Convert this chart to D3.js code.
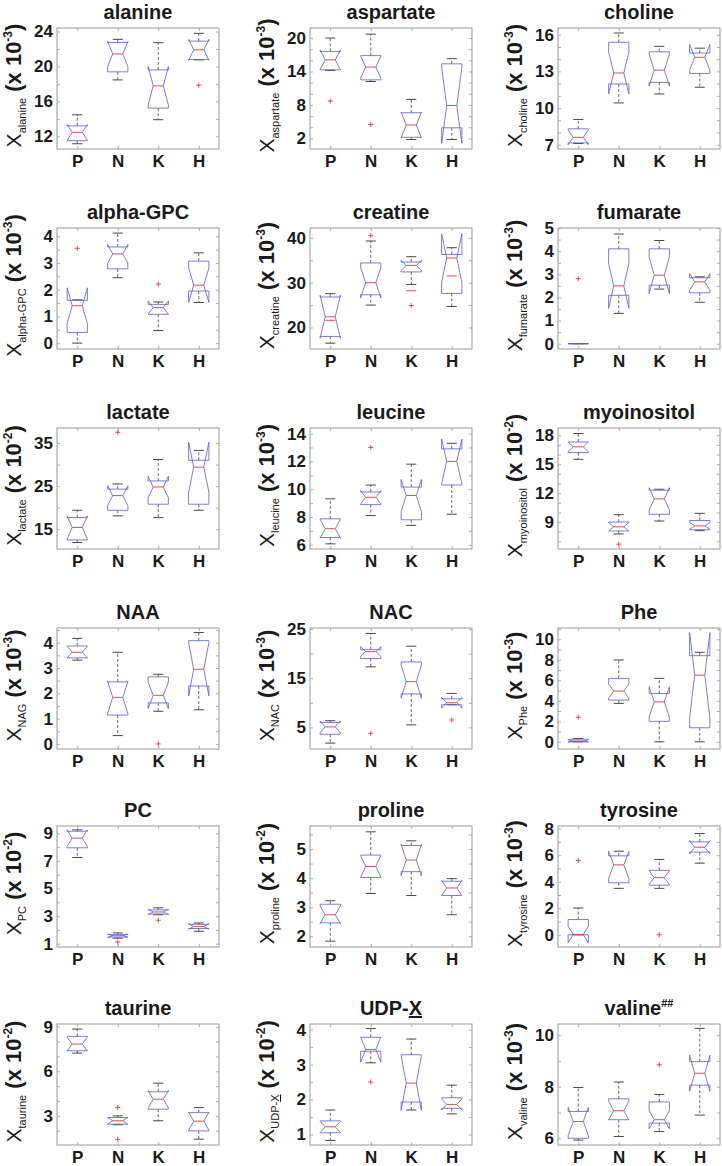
<!DOCTYPE html>
<html><head><meta charset="utf-8">
<script src="https://cdn.jsdelivr.net/npm/d3@7"></script>
<style>
body{margin:0;background:#fff}
text{font-family:"Liberation Sans",Arial,Helvetica,sans-serif}
</style>
</head><body>
<svg id="c" width="722" height="1166"></svg>
<script>
// ---------------- DATA ----------------
const metabolites = ["alanine","aspartate","choline","alpha-GPC","creatine","fumarate",
  "lactate","leucine","myoinositol","NAA","NAC","Phe","PC","proline","tyrosine",
  "taurine","UDP-X","valine"];
const subscripts = ["alanine","aspartate","choline","alpha-GPC","creatine","fumarate",
  "lactate","leucine","myoinositol","NAG","NAC","Phe","PC","proline","tyrosine",
  "taurine","UDP-X","valine"];
const groups = ["P","N","K","H"];
const exponents = [3,3,3,3,3,3,2,3,2,3,3,3,2,2,3,2,2,3];
const yDomains = [[10.55,24.4],[0.1,21.8],[6.65,16.55],[-0.22,4.31],[15.2,42.2],[-0.23,5.0],
  [10.4,38.5],[5.7,14.4],[6.2,18.75],[-0.2,4.58],[0.6,25.2],[-0.7,11.1],
  [0.76,9.53],[1.63,5.79],[-0.92,8.2],[1.04,9.18],[0.7,4.16],[5.74,10.43]];
const yTicks = [[12,16,20,24],[2,8,14,20],[7,10,13,16],[0,1,2,3,4],[20,30,40],[0,1,2,3,4,5],
  [15,25,35],[6,8,10,12,14],[9,12,15,18],[0,1,2,3,4],[5,15,25],[0,2,4,6,8,10],
  [1,3,5,7,9],[2,3,4,5],[0,2,4,6,8],[3,6,9],[1,2,3,4],[6,8,10]];
const minorStep = [2,2,1,0.5,5,0.5,5,1,1,0.5,5,1,1,0.5,1,1,0.5,1];

const whiskerLow = [[11.15,18.46,13.9,20.75],[14.2,12.2,1.8,1.8],[7.1,10.42,11.15,11.7],
  [0.0,2.45,0.47,1.52],[16.5,25.0,29.6,24.7],[0,1.31,2.36,1.79],
  [11.9,18.1,17.7,19.4],[6.07,8.1,7.4,8.2],[15.5,7.76,9.1,8.1],
  [3.31,0.33,1.29,1.35],[1.8,17.3,5.5,9.6],[0.0,3.75,0.0,0.0],
  [7.25,1.4,3.1,1.9],[1.83,3.47,3.4,2.74],[0.0,3.5,3.5,5.4],
  [7.22,2.4,2.67,1.43],[0.83,3.05,1.7,1.59],[5.93,6.07,6.26,6.9]];
const quartile1 = [[11.5,19.38,15.23,20.8],[14.3,12.5,2.2,3.9],[7.15,11.97,12.1,12.83],
  [0.4,2.78,1.08,1.95],[18.0,27.3,32.4,27.6],[0,2.09,2.53,2.2],
  [12.5,19.4,20.8,20.8],[6.53,8.89,7.8,10.3],[16.2,8.07,9.8,8.2],
  [3.4,1.14,1.62,2.29],[3.6,19.0,11.8,9.6],[0.0,4.07,2.0,1.37],
  [7.95,1.48,3.15,2.1],[2.46,4.02,4.22,3.4],[0.0,3.92,3.74,6.23],
  [7.38,2.44,3.45,1.99],[1.05,3.38,1.93,1.75],[6.0,6.72,6.59,8.06]];
const medians = [[12.45,21.43,17.78,21.9],[16.1,14.8,4.4,7.9],[7.6,12.87,13.1,14.15],
  [1.4,3.34,1.33,2.17],[22.4,30.0,33.85,35.5],[0,2.5,2.96,2.67],
  [15.4,22.8,24.8,29.4],[7.16,9.42,9.55,12.0],[16.8,8.5,11.4,8.6],
  [3.62,1.84,1.92,2.95],[5.1,20.4,14.3,10.0],[0.08,4.95,3.9,6.5],
  [8.65,1.58,3.3,2.25],[2.74,4.4,4.62,3.66],[0.02,5.27,4.31,6.6],
  [7.83,2.67,4.12,2.64],[1.22,3.43,2.47,1.86],[6.65,7.07,6.72,8.52]];
const quartile3 = [[13.2,22.75,19.6,22.9],[17.6,16.85,6.6,15.37],[8.3,15.38,14.6,14.5],
  [1.6,3.6,1.45,3.07],[26.8,34.4,34.6,36.3],[0,4.1,4.1,2.85],
  [17.7,24.3,26.2,31.0],[7.87,9.8,10.15,12.9],[17.3,9.0,12.3,9.16],
  [3.87,2.45,2.65,4.08],[6.0,20.8,18.3,10.8],[0.25,6.19,4.72,8.4],
  [9.15,1.66,3.45,2.4],[3.1,4.79,5.12,3.89],[1.15,5.95,4.86,7.0],
  [8.35,2.89,4.62,3.22],[1.39,3.78,3.28,2.05],[7.04,7.53,7.41,8.97]];
const whiskerHigh = [[14.47,23.1,22.72,23.79],[20.0,20.7,9.0,16.3],[9.07,16.14,15.05,14.9],
  [1.62,4.12,1.54,3.38],[27.55,39.3,35.8,37.8],[0,4.74,4.46,2.89],
  [19.4,25.5,31.2,33.3],[9.31,10.3,11.8,13.3],[18.17,9.76,12.4,9.9],
  [4.17,3.62,2.75,4.4],[6.35,24.1,21.5,11.9],[0.33,7.98,6.19,8.73],
  [9.25,1.78,3.6,2.5],[3.22,5.59,5.28,3.98],[2.02,6.3,5.68,7.63],
  [8.84,3.0,5.2,3.56],[1.7,4.03,3.73,2.41],[7.97,8.18,7.7,10.26]];
const notchLow = [[11.55,19.98,15.58,20.7],[14.35,12.8,2.1,1.1],[7.0,11.15,11.8,13.1],
  [0.73,2.99,1.08,1.52],[17.6,26.6,32.7,30.1],[0,1.53,2.17,2.31],
  [12.7,20.5,22.3,23.6],[6.48,8.95,8.4,10.4],[16.3,8.05,10.25,8.25],
  [3.39,1.2,1.4,1.9],[3.9,19.4,10.9,8.9],[-0.04,4.25,2.43,2.35],
  [8.05,1.46,3.1,2.05],[2.44,4.03,4.08,3.4],[-0.61,4.24,3.78,6.1],
  [7.36,2.44,3.54,2.04],[1.06,3.07,1.69,1.7],[6.1,6.71,6.37,7.82]];
const notchHigh = [[13.35,22.88,19.98,23.1],[17.85,16.8,6.7,14.7],[8.2,14.59,14.4,15.2],
  [2.07,3.69,1.58,2.82],[27.2,33.4,35.0,40.9],[0,3.47,3.75,3.03],
  [18.1,25.1,27.3,35.2],[7.84,9.89,10.7,13.6],[17.3,8.95,12.55,8.95],
  [3.85,2.48,2.44,4.0],[6.3,21.4,17.7,11.1],[0.2,5.65,5.37,10.65],
  [9.25,1.7,3.5,2.45],[3.04,4.77,5.16,3.92],[0.65,6.3,4.84,7.1],
  [8.3,2.9,4.7,3.24],[1.38,3.79,3.25,2.02],[7.2,7.43,7.07,9.22]];
const outliers = [[[],[],[],[17.85]],[[8.7],[4.5],[],[]],[[],[],[],[]],
  [[3.55],[],[2.21],[]],[[],[40.5],[24.9],[]],[[2.81],[],[],[]],
  [[],[37.5],[],[]],[[],[13.0],[],[]],[[],[6.7],[],[]],
  [[],[],[0.0],[]],[[],[3.8],[],[6.5]],[[2.4],[],[],[]],
  [[],[1.12],[2.7],[]],[[],[],[],[]],[[5.6],[],[0.0],[]],
  [[],[3.56,1.42],[],[]],[[],[2.5],[],[]],[[],[],[8.85],[]]];
const extraMarks = [[[],[],[],[]],[[],[],[],[]],[[],[],[],[]],
  [[],[],[],[]],[[21.6],[],[28.2],[31.5]],[[],[],[],[]],
  [[],[],[],[]],[[],[],[],[]],[[],[],[],[]],
  [[],[],[],[]],[[],[],[],[]],[[],[],[],[]],
  [[],[],[],[]],[[],[],[],[]],[[],[],[],[]],
  [[],[],[],[]],[[],[],[],[]],[[],[],[],[]]];

// ---------------- LAYOUT ----------------
const svg = d3.select("#c");
const colX = [57, 310, 558];
const rowY = [28, 228, 428, 628, 826, 1024];
const pw = 162, ph = 121;
const BOX = "#5a5ad2", MED = "#e03a34", WHISK = "#444", FRAME = "#9a9a9a";

metabolites.forEach((name, i) => {
  const r = Math.floor(i / 3), c = i % 3;
  const ox = colX[c], oy = rowY[r];
  const g = svg.append("g").attr("transform", `translate(${ox},${oy})`);
  const x = d3.scalePoint().domain(groups).range([0, pw]).padding(0.5);
  const y = d3.scaleLinear().domain(yDomains[i]).range([ph, 0]);
  const w = x.step() * 0.25;      // half box width
  const cw = x.step() * 0.125;    // half cap width

  // minor ticks
  const dom = yDomains[i], s = minorStep[i];
  const minor = d3.range(Math.ceil(dom[0] / s - 1e-9) * s, dom[1] + 1e-9, s);
  const tickStyle = sel => { sel.select(".domain").remove(); sel.selectAll("line").attr("stroke", FRAME).attr("stroke-width", 0.8); };
  g.append("g").call(d3.axisLeft(y).tickValues(minor).tickSize(-3).tickFormat("")).call(tickStyle);
  g.append("g").attr("transform", `translate(${pw},0)`).call(d3.axisRight(y).tickValues(minor).tickSize(-3).tickFormat("")).call(tickStyle);
  g.append("g").call(d3.axisTop(x).tickSize(-3).tickFormat("")).call(tickStyle);

  // labelled left axis
  const la = g.append("g").call(d3.axisLeft(y).tickValues(yTicks[i]).tickSize(0).tickPadding(4).tickFormat(d3.format("d")));
  la.select(".domain").remove();
  la.selectAll("text").attr("font-size", 17).attr("font-weight", "bold").attr("fill", "#1a1a1a")
    .attr("font-family", '"Liberation Sans",Arial,sans-serif');

  // bottom axis with category labels
  const ba = g.append("g").attr("transform", `translate(0,${ph})`).call(d3.axisBottom(x).tickSize(-3).tickPadding(6));
  ba.select(".domain").remove();
  ba.selectAll("line").attr("stroke", FRAME).attr("stroke-width", 0.8);
  ba.selectAll("text").attr("font-size", 17).attr("font-weight", "bold").attr("fill", "#1a1a1a")
    .attr("font-family", '"Liberation Sans",Arial,sans-serif');

  // frame
  g.append("rect").attr("x", 0).attr("y", 0).attr("width", pw).attr("height", ph)
    .attr("fill", "none").attr("stroke", FRAME).attr("stroke-width", 1);

  // boxes
  const plot = g.append("g");
  groups.forEach((grp, j) => {
    const cx = x(grp);
    const lo = whiskerLow[i][j], q1 = quartile1[i][j], md = medians[i][j], q3 = quartile3[i][j],
          hi = whiskerHigh[i][j], nl = notchLow[i][j], nh = notchHigh[i][j];
    // whiskers
    plot.append("line").attr("x1", cx).attr("x2", cx).attr("y1", y(q3)).attr("y2", y(hi))
      .attr("stroke", WHISK).attr("stroke-width", 0.8).attr("stroke-dasharray", "3,2");
    plot.append("line").attr("x1", cx).attr("x2", cx).attr("y1", y(q1)).attr("y2", y(lo))
      .attr("stroke", WHISK).attr("stroke-width", 0.8).attr("stroke-dasharray", "3,2");
    [lo, hi].forEach(v => plot.append("line").attr("x1", cx - cw).attr("x2", cx + cw)
      .attr("y1", y(v)).attr("y2", y(v)).attr("stroke", "#333").attr("stroke-width", 0.9));
    // notched box
    const pts = [[cx - w, q1], [cx - w, nl], [cx - w / 2, md], [cx - w, nh], [cx - w, q3],
                 [cx + w, q3], [cx + w, nh], [cx + w / 2, md], [cx + w, nl], [cx + w, q1]];
    plot.append("path").attr("d", d3.line().x(p => p[0]).y(p => y(p[1]))(pts) + "Z")
      .attr("fill", "none").attr("stroke", BOX).attr("stroke-width", 0.8);
    // median
    plot.append("line").attr("x1", cx - w / 2).attr("x2", cx + w / 2).attr("y1", y(md)).attr("y2", y(md))
      .attr("stroke", MED).attr("stroke-width", 0.9);
    extraMarks[i][j].forEach(v => plot.append("line").attr("x1", cx - w / 2).attr("x2", cx + w / 2)
      .attr("y1", y(v)).attr("y2", y(v)).attr("stroke", MED).attr("stroke-width", 0.9));
    // outliers
    outliers[i][j].forEach(v => {
      plot.append("path").attr("d", `M${cx - 2.5},${y(v)}H${cx + 2.5}M${cx},${y(v) - 2.5}V${y(v) + 2.5}`)
        .attr("stroke", MED).attr("stroke-width", 0.9);
    });
  });

  // title
  const t = svg.append("text").attr("x", ox + pw / 2).attr("y", oy - 9).attr("text-anchor", "middle")
    .attr("font-size", 20).attr("font-weight", "bold").attr("fill", "#1a1a1a");
  if (name === "UDP-X") {
    t.append("tspan").text("UDP-");
    t.append("tspan").style("text-decoration", "underline").text("X");
  } else if (name === "valine") {
    t.append("tspan").text("valine");
    t.append("tspan").attr("font-size", 11).attr("dy", -8).text("##");
  } else t.text(name);

  // y label
  const lab = svg.append("text")
    .attr("transform", `translate(${ox - 36},${oy + ph / 2 - 3}) rotate(-90)`)
    .attr("text-anchor", "middle").attr("fill", "#1a1a1a");
  lab.append("tspan").attr("font-size", 21).text("X");
  const sub = subscripts[i];
  if (sub === "UDP-X") {
    lab.append("tspan").attr("font-size", 11).attr("dy", 5).text("UDP-");
    lab.append("tspan").attr("font-size", 11).style("text-decoration", "underline").text("X");
  } else {
    lab.append("tspan").attr("font-size", 11).attr("dy", 5).text(sub);
  }
  lab.append("tspan").attr("font-size", 22).attr("font-weight", "bold").attr("dy", -5).text(" (x 10");
  lab.append("tspan").attr("font-size", 12).attr("font-weight", "bold").attr("dy", -9).text("-" + exponents[i]);
  lab.append("tspan").attr("font-size", 22).attr("font-weight", "bold").attr("dy", 9).text(")");
});
</script>
</body></html>
